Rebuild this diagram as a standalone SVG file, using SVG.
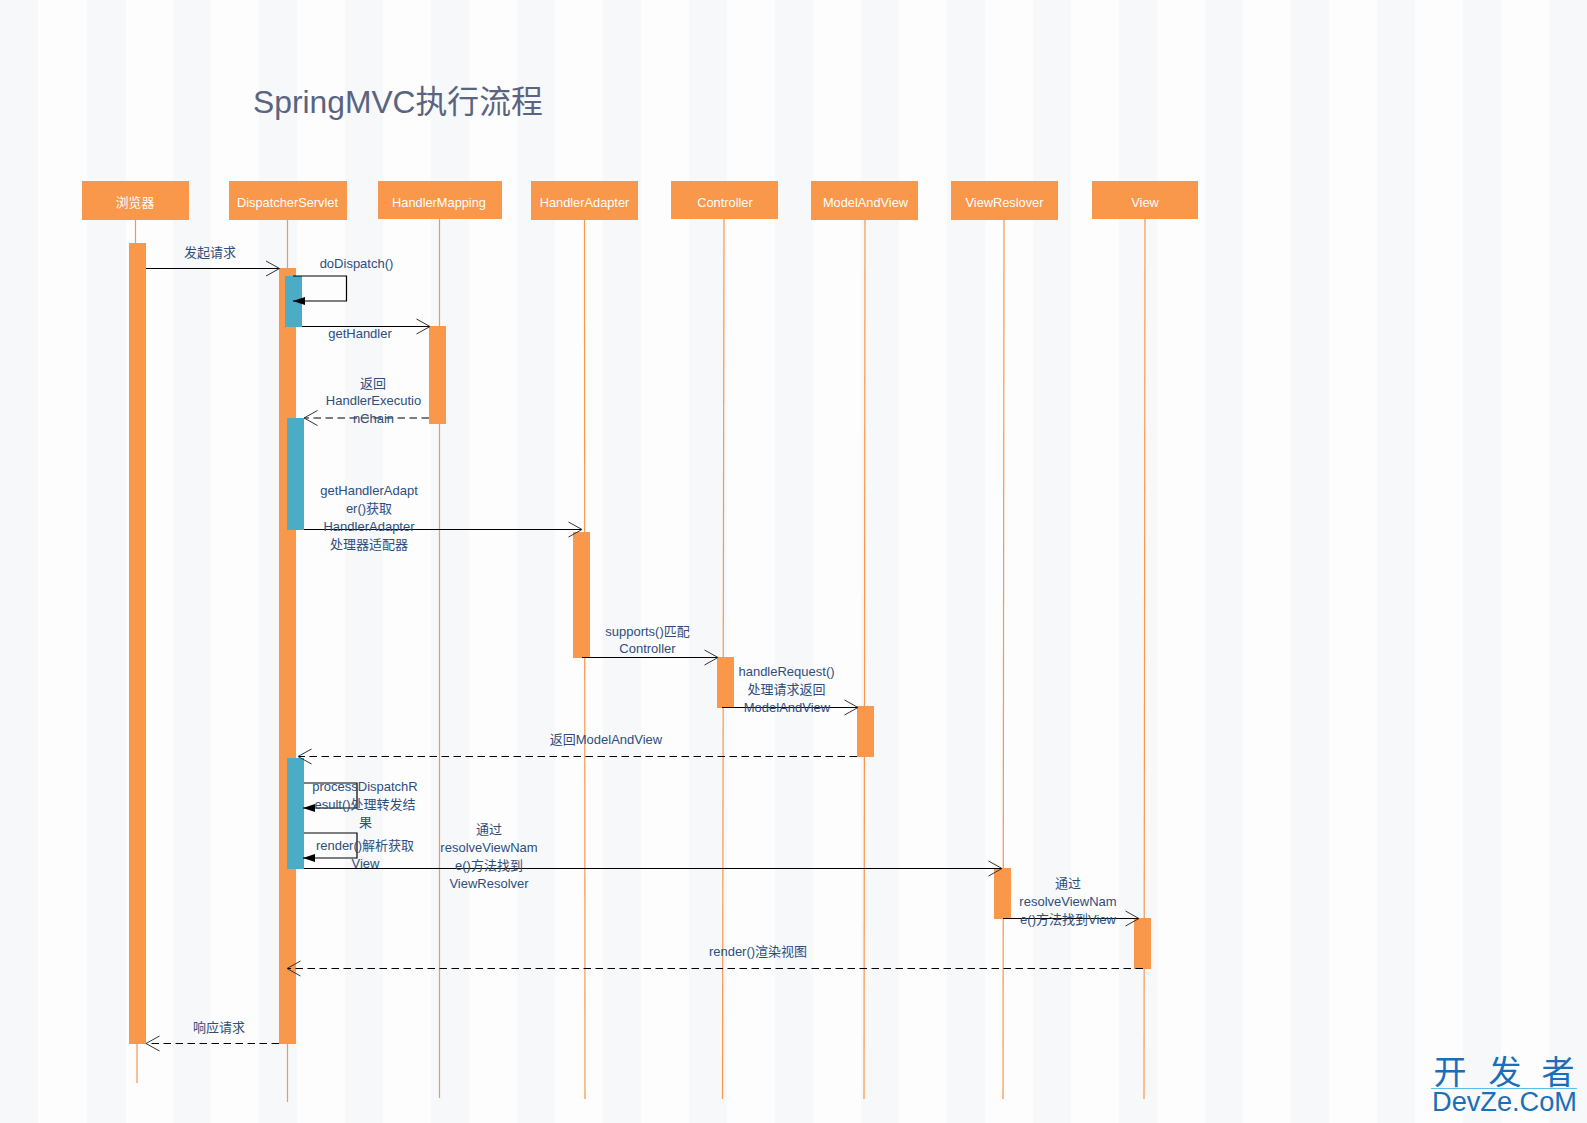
<svg xmlns="http://www.w3.org/2000/svg" width="1587" height="1123" viewBox="0 0 1587 1123">
<style>
text{font-family:"Liberation Sans","Noto Sans CJK SC",sans-serif}
.hd{fill:#f9974a}
.ac{fill:#f9974a}
.te{fill:#4bacc6}
.ll{stroke:#f9974a;stroke-width:1.2;fill:none}
.ht{fill:#fff;font-size:12.8px;text-anchor:middle}
.lb{fill:#2f4e7c;font-size:13px;text-anchor:middle}
.m{stroke:#000;stroke-width:1.2;fill:none}
.o{marker-end:url(#open)}
.f{marker-end:url(#fill)}
.d{stroke-dasharray:7.5 4.5}
.st{fill:#f6f8fa}
.wm{fill:#1a6fb8;font-size:33px;text-anchor:middle}
</style>
<defs>
<marker id="open" markerUnits="userSpaceOnUse" markerWidth="16" markerHeight="22" refX="14" refY="10" orient="auto" overflow="visible"><path d="M0.5 2.5L14 10L0.5 17.5" fill="none" stroke="#333" stroke-width="1"/></marker>
<marker id="fill" markerUnits="userSpaceOnUse" markerWidth="14" markerHeight="10" refX="12" refY="4" orient="auto" overflow="visible"><path d="M0 0L12 4L0 8Z" fill="#000"/></marker>
</defs>
<rect width="1587" height="1123" fill="#fdfdfd"/>
<g id="stripes">
<rect class="st" x="0" y="0" width="38" height="1123"/><rect class="st" x="87" y="0" width="39" height="1123"/><rect class="st" x="173" y="0" width="38" height="1123"/><rect class="st" x="259" y="0" width="38" height="1123"/><rect class="st" x="345" y="0" width="38" height="1123"/><rect class="st" x="431" y="0" width="38" height="1123"/><rect class="st" x="517" y="0" width="38" height="1123"/><rect class="st" x="603" y="0" width="38" height="1123"/><rect class="st" x="689" y="0" width="38" height="1123"/><rect class="st" x="775" y="0" width="38" height="1123"/><rect class="st" x="861" y="0" width="38" height="1123"/><rect class="st" x="947" y="0" width="38" height="1123"/><rect class="st" x="1033" y="0" width="38" height="1123"/><rect class="st" x="1119" y="0" width="38" height="1123"/><rect class="st" x="1205" y="0" width="38" height="1123"/><rect class="st" x="1291" y="0" width="38" height="1123"/><rect class="st" x="1377" y="0" width="38" height="1123"/><rect class="st" x="1463" y="0" width="38" height="1123"/><rect class="st" x="1549" y="0" width="38" height="1123"/>
</g>
<text id="title" x="253" y="113" font-size="31.800" fill="#5a6480">SpringMVC执行流程</text>
<g id="browser">
<path class="ll" d="M135.500 219V243M137 1044V1083"/>
<rect class="hd" x="82" y="181" width="107" height="39"/>
<text class="ht" x="135" y="207">浏览器</text>
<rect class="ac" x="129" y="243" width="17" height="801"/>
</g>
<g id="dispatcherServlet">
<path class="ll" d="M287.500 219V268M287.500 1044V1102"/>
<rect class="hd" x="229" y="181" width="118" height="39"/>
<text class="ht" x="287.500" y="207">DispatcherServlet</text>
<rect class="ac" x="279" y="268" width="17" height="776"/>
<rect class="te" x="285" y="276" width="17" height="51"/>
<rect class="te" x="287" y="418" width="17" height="112"/>
<rect class="te" x="287" y="758" width="17" height="111"/>
</g>
<g id="handlerMapping">
<path class="ll" d="M439.500 219V1098"/>
<rect class="hd" x="378" y="181" width="124" height="38"/>
<text class="ht" x="439" y="207">HandlerMapping</text>
<rect class="ac" x="429" y="326" width="17" height="98"/>
</g>
<g id="handlerAdapter">
<path class="ll" d="M584.500 219L585 1099"/>
<rect class="hd" x="531" y="181" width="107" height="39"/>
<text class="ht" x="584.500" y="207">HandlerAdapter</text>
<rect class="ac" x="573" y="532" width="17" height="126"/>
</g>
<g id="controller">
<path class="ll" d="M724 219L722.500 1099"/>
<rect class="hd" x="671" y="181" width="107" height="38"/>
<text class="ht" x="725" y="207">Controller</text>
<rect class="ac" x="717" y="657" width="17" height="51"/>
</g>
<g id="modelAndView">
<path class="ll" d="M865 219L864 1099"/>
<rect class="hd" x="811" y="181" width="107" height="39"/>
<text class="ht" x="865.500" y="207">ModelAndView</text>
<rect class="ac" x="857" y="706" width="17" height="51"/>
</g>
<g id="viewReslover">
<path class="ll" d="M1004 219L1003 1099"/>
<rect class="hd" x="951" y="181" width="107" height="39"/>
<text class="ht" x="1004.500" y="207">ViewReslover</text>
<rect class="ac" x="994" y="868" width="17" height="51"/>
</g>
<g id="view">
<path class="ll" d="M1145 219L1144 1099"/>
<rect class="hd" x="1092" y="181" width="106" height="38"/>
<text class="ht" x="1145" y="207">View</text>
<rect class="ac" x="1134" y="918" width="17" height="51"/>
</g>
<g id="connectors">
<path class="m o" d="M146 268.500H279.500"/>
<path class="m f" d="M293 276H346.500V301H293"/>
<path class="m o" d="M302 326.500H430"/>
<path class="m d o" d="M429 418H304"/>
<path class="m o" d="M304 529.500H582"/>
<path class="m o" d="M582 657.500H718"/>
<path class="m o" d="M722 707.500H858"/>
<path class="m d o" d="M857 756.500H298"/>
<path class="m f" d="M304 783H357V808H303"/>
<path class="m f" d="M304 833H357V858H303"/>
<path class="m o" d="M304 868.500H1002"/>
<path class="m o" d="M1003 918.500H1139"/>
<path class="m d o" d="M1143 968.500H287"/>
<path class="m d o" d="M279 1043.500H146"/>
<text class="lb" x="210" y="256.500">发起请求</text>
<text class="lb" x="356.500" y="268">doDispatch()</text>
<text class="lb" x="360" y="338">getHandler</text>
<text class="lb" x="373" y="387.500">返回</text>
<text class="lb" x="373.500" y="405">HandlerExecutio</text>
<text class="lb" x="373.500" y="423">nChain</text>
<text class="lb" x="369" y="495">getHandlerAdapt</text>
<text class="lb" x="369" y="512.500">er()获取</text>
<text class="lb" x="369" y="531">HandlerAdapter</text>
<text class="lb" x="369" y="548.500">处理器适配器</text>
<text class="lb" x="647.500" y="636">supports()匹配</text>
<text class="lb" x="647.500" y="653">Controller</text>
<text class="lb" x="786.500" y="675.500">handleRequest()</text>
<text class="lb" x="786.500" y="693.500">处理请求返回</text>
<text class="lb" x="787" y="712">ModelAndView</text>
<text class="lb" x="606" y="744">返回ModelAndView</text>
<text class="lb" x="365" y="791">processDispatchR</text>
<text class="lb" x="365" y="809">esult()处理转发结</text>
<text class="lb" x="365.500" y="827">果</text>
<text class="lb" x="365" y="850">render()解析获取</text>
<text class="lb" x="365.500" y="868">View</text>
<text class="lb" x="489" y="834">通过</text>
<text class="lb" x="489" y="852">resolveViewNam</text>
<text class="lb" x="489" y="870">e()方法找到</text>
<text class="lb" x="489" y="888">ViewResolver</text>
<text class="lb" x="1068" y="887.500">通过</text>
<text class="lb" x="1068" y="905.500">resolveViewNam</text>
<text class="lb" x="1068" y="923.500">e()方法找到View</text>
<text class="lb" x="758" y="956">render()渲染视图</text>
<text class="lb" x="219" y="1032">响应请求</text>
</g>
<g id="watermark">
<text class="wm" x="1450" y="1084">开</text>
<text class="wm" x="1505" y="1084">发</text>
<text class="wm" x="1558" y="1084">者</text>
<path d="M1431 1088.500H1577" stroke="#5bbde8" stroke-width="1"/>
<text x="1432" y="1111" font-size="27" fill="#1a6fb8" textLength="145" lengthAdjust="spacingAndGlyphs">DevZe.CoM</text>
</g>
</svg>
